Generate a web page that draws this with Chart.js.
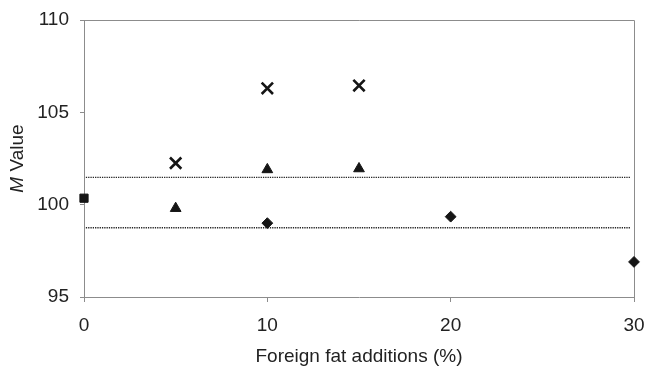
<!DOCTYPE html>
<html>
<head>
<meta charset="utf-8">
<script src="https://cdn.jsdelivr.net/npm/chart.js@4/dist/chart.umd.min.js"></script>
<style>
  html, body { margin: 0; padding: 0; background: #fff; }
  #wrap { width: 647px; height: 366px; }
</style>
</head>
<body>
<div id="wrap"><canvas id="chart"></canvas></div>
<script>
// data
var squareX = [0];
var squareY = [100.35];
var crossX = [5, 10, 15];
var crossY = [102.25, 106.3, 106.45];
var triX = [5, 10, 15];
var triY = [99.8, 101.9, 101.95];
var diamondX = [10, 20, 30];
var diamondY = [99.0, 99.35, 96.9];
var upperX = [0.1, 29.8];
var upperY = [101.48, 101.48];
var lowerX = [0.1, 29.8];
var lowerY = [98.75, 98.75];
var xTicks = [0, 10, 20, 30];
var yTicks = [95, 100, 105, 110];

var ink = '#151515';
var axisGrey = '#8c8c8c';
var fam = 'Liberation Sans, Arial, sans-serif';
var tickFont = { family: fam, size: 19 };

function pts(xs, ys) {
     return xs.map(function (x, i) { return { x: x, y: ys[i] }; });
}

function marker(label, xs, ys, style, radius, width) {
     return {
          type: 'scatter',
          label: label,
          data: pts(xs, ys),
          pointStyle: style,
          pointRadius: radius,
          pointHoverRadius: radius,
          pointBackgroundColor: ink,
          pointBorderColor: ink,
          pointBorderWidth: width,
          clip: false,
          order: 1
     };
}

function dotted(label, xs, ys) {
     return {
          type: 'line',
          label: label,
          data: pts(xs, ys),
          borderColor: '#262626',
          borderWidth: 1.3,
          borderDash: [1.3, 1],
          pointRadius: 0,
          fill: false,
          order: 2
     };
}

// top + right edge of the plot box, and the titles (y title has an italic M)
var frame = {
     id: 'frame',
     beforeDatasetsDraw: function (chart) {
          var ctx = chart.ctx, a = chart.chartArea;
          ctx.save();
          ctx.strokeStyle = axisGrey;
          ctx.lineWidth = 1;
          ctx.beginPath();
          ctx.moveTo(a.left, a.top + 0.5);
          ctx.lineTo(a.right + 0.5, a.top + 0.5);
          ctx.lineTo(a.right + 0.5, a.bottom);
          ctx.stroke();
          ctx.restore();
     },
     afterDraw: function (chart) {
          var ctx = chart.ctx, a = chart.chartArea;
          ctx.save();
          ctx.fillStyle = '#222';
          ctx.textBaseline = 'middle';
          ctx.translate(18, (a.top + a.bottom) / 2);
          ctx.rotate(-Math.PI / 2);
          ctx.font = 'italic 19px ' + fam;
          var wM = ctx.measureText('M').width;
          ctx.font = '19px ' + fam;
          var wV = ctx.measureText(' Value').width;
          var start = -(wM + wV) / 2;
          ctx.textAlign = 'left';
          ctx.font = 'italic 19px ' + fam;
          ctx.fillText('M', start, 0);
          ctx.font = '19px ' + fam;
          ctx.fillText(' Value', start + wM, 0);
          ctx.restore();

          ctx.save();
          ctx.fillStyle = '#222';
          ctx.font = '19px ' + fam;
          ctx.textAlign = 'center';
          ctx.textBaseline = 'middle';
          ctx.fillText('Foreign fat additions (%)', (a.left + a.right) / 2, 357);
          ctx.restore();
     }
};

var cfg = {
     type: 'scatter',
     data: {
          datasets: [
               dotted('upper', upperX, upperY),
               dotted('lower', lowerX, lowerY),
               marker('square', squareX, squareY, 'rect', 5.8, 1),
               marker('cross', crossX, crossY, 'crossRot', 8, 2.6),
               marker('triangle', triX, triY, 'triangle', 6.2, 1),
               marker('diamond', diamondX, diamondY, 'rectRot', 5.4, 1)
          ]
     },
     options: {
          responsive: true,
          maintainAspectRatio: false,
          animation: false,
          layout: { padding: { top: 20, right: 13, left: 0, bottom: 0 } },
          plugins: { legend: { display: false }, tooltip: { enabled: false } },
          scales: {
               x: {
                    type: 'linear',
                    min: 0,
                    max: 30,
                    afterBuildTicks: function (s) { s.ticks = xTicks.map(function (v) { return { value: v }; }); },
                    afterFit: function (s) { s.height = 69; s.paddingLeft = 0; s.paddingRight = 0; },
                    ticks: { font: tickFont, color: '#222', padding: 12 },
                    grid: { drawOnChartArea: false, color: axisGrey, tickLength: 5 },
                    border: { color: axisGrey, width: 1 }
               },
               y: {
                    type: 'linear',
                    min: 95,
                    max: 110,
                    afterBuildTicks: function (s) { s.ticks = yTicks.map(function (v) { return { value: v }; }); },
                    afterFit: function (s) { s.width = 84; s.paddingTop = 0; s.paddingBottom = 0; },
                    ticks: { font: tickFont, color: '#222', padding: 11 },
                    grid: { drawOnChartArea: false, color: axisGrey, tickLength: 4 },
                    border: { color: axisGrey, width: 1 }
               }
          }
     },
     plugins: [frame]
};

new Chart(document.getElementById('chart').getContext('2d'), cfg);
</script>
</body>
</html>
